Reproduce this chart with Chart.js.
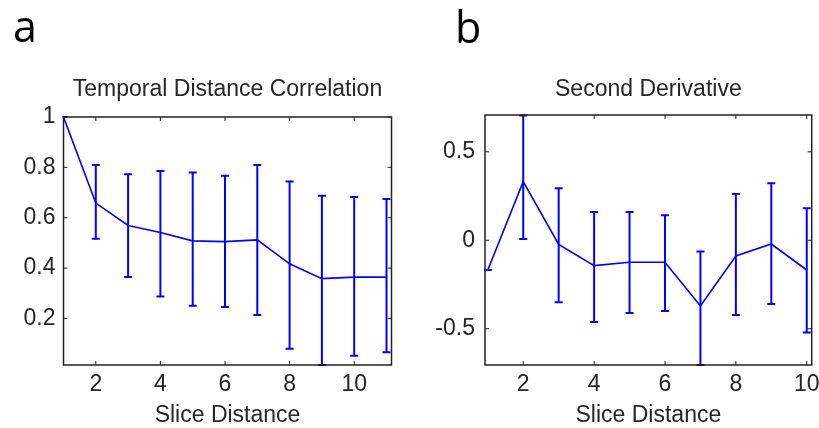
<!DOCTYPE html>
<html><head><meta charset="utf-8">
<script src="https://cdn.jsdelivr.net/npm/chart.js@4"></script>
<style>
html,body{margin:0;padding:0;background:#fff;}
#wrap{position:relative;width:819px;height:428px;overflow:hidden;background:#fff;}
#ca{position:absolute;left:0;top:0;}
#cb{position:absolute;left:410px;top:0;}
</style></head><body>
<div id="wrap">
<canvas id="ca" width="410" height="428" style="width:410px;height:428px"></canvas>
<canvas id="cb" width="409" height="428" style="width:409px;height:428px"></canvas>
</div>
<script>
// ---- Panel a: Temporal Distance Correlation ----
const sliceA = [1, 2, 3, 4, 5, 6, 7, 8, 9, 10, 11];
const meanA  = [1.0, 0.658, 0.569, 0.541, 0.508, 0.505, 0.512, 0.417, 0.358, 0.364, 0.364];
const upperA = [1.0, 0.809, 0.773, 0.786, 0.780, 0.767, 0.809, 0.744, 0.687, 0.682, 0.674];
const lowerA = [1.0, 0.516, 0.365, 0.287, 0.250, 0.245, 0.214, 0.080, 0.015, 0.052, 0.066];
const xTicksA = [2, 4, 6, 8, 10];
const xTickLabelsA = ['2', '4', '6', '8', '10'];
const yTicksA = [0.2, 0.4, 0.6, 0.8, 1];
const yTickLabelsA = ['0.2', '0.4', '0.6', '0.8', '1'];

// ---- Panel b: Second Derivative ----
const sliceB = [1, 2, 3, 4, 5, 6, 7, 8, 9, 10];
const meanB  = [-0.168, 0.331, -0.023, -0.143, -0.124, -0.124, -0.371, -0.089, -0.021, -0.168];
const upperB = [-0.168, 0.705, 0.294, 0.160, 0.160, 0.141, -0.064, 0.262, 0.322, 0.181];
const lowerB = [-0.168, 0.007, -0.350, -0.462, -0.411, -0.400, -0.705, -0.422, -0.360, -0.522];
const xTicksB = [2, 4, 6, 8, 10];
const xTickLabelsB = ['2', '4', '6', '8', '10'];
const yTicksB = [-0.5, 0, 0.5];
const yTickLabelsB = ['-0.5', '0', '0.5'];

Chart.defaults.font.family = '"Liberation Sans", Arial, sans-serif';
Chart.defaults.color = '#262626';

const errorBarsPlugin = {
  id: 'errorBars',
  afterDatasetsDraw(chart, args, opts) {
    const {ctx, chartArea: a, scales: {x, y}} = chart;
    ctx.save();
    ctx.beginPath();
    ctx.rect(a.left - 1, a.top - 1, a.right - a.left + 2, a.bottom - a.top + 2);
    ctx.clip();
    ctx.strokeStyle = opts.color;
    ctx.lineWidth = opts.width;
    opts.xs.forEach((xv, i) => {
      const px = x.getPixelForValue(xv);
      const pu = y.getPixelForValue(opts.upper[i]);
      const pl = y.getPixelForValue(opts.lower[i]);
      ctx.beginPath();
      ctx.moveTo(px, pu); ctx.lineTo(px, pl);
      ctx.moveTo(px - opts.cap, pu); ctx.lineTo(px + opts.cap, pu);
      ctx.moveTo(px - opts.cap, pl); ctx.lineTo(px + opts.cap, pl);
      ctx.stroke();
    });
    ctx.restore();
  }
};

const boxPlugin = {
  id: 'matlabBox',
  afterDraw(chart, args, opts) {
    const {ctx, chartArea: a, scales: {x, y}} = chart;
    ctx.save();
    ctx.strokeStyle = '#222';
    ctx.lineWidth = 1.5;
    ctx.strokeRect(a.left, a.top, a.right - a.left, a.bottom - a.top);
    ctx.lineWidth = 1;
    const tl = 4;
    ctx.beginPath();
    x.ticks.forEach(t => {
      const p = x.getPixelForValue(t.value);
      ctx.moveTo(p, a.bottom); ctx.lineTo(p, a.bottom - tl);
      ctx.moveTo(p, a.top); ctx.lineTo(p, a.top + tl);
    });
    y.ticks.forEach(t => {
      const p = y.getPixelForValue(t.value);
      ctx.moveTo(a.left, p); ctx.lineTo(a.left + tl, p);
      ctx.moveTo(a.right, p); ctx.lineTo(a.right - tl, p);
    });
    ctx.stroke();
    ctx.fillStyle = '#000';
    ctx.font = '43px "Open Sans", sans-serif';
    ctx.textAlign = 'left';
    ctx.textBaseline = 'alphabetic';
    ctx.fillText(opts.letter, opts.lx, opts.ly);
    ctx.restore();
  }
};

function makePanel(canvasId, p) {
  return new Chart(document.getElementById(canvasId), {
    type: 'line',
    data: {
      datasets: [{
        data: p.xs.map((v, i) => ({x: v, y: p.mean[i]})),
        borderColor: '#0000ff',
        borderWidth: 1.6,
        pointRadius: 0,
        tension: 0,
        fill: false
      }]
    },
    options: {
      responsive: false,
      animation: false,
      devicePixelRatio: 1,
      layout: {padding: {left: 0, right: p.padR, top: 0, bottom: 0}},
      plugins: {
        legend: {display: false},
        tooltip: {enabled: false},
        title: {
          display: true, text: p.title, color: '#262626', fullSize: false,
          font: {size: 23, weight: 'normal', lineHeight: 1.2},
          padding: {top: 76.2, bottom: p.titleBottom}
        },
        errorBars: {xs: p.xs, upper: p.upper, lower: p.lower, color: '#0000ff', width: 2, cap: 4},
        matlabBox: {letter: p.letter, lx: p.lx, ly: p.ly}
      },
      scales: {
        x: {
          type: 'linear', min: p.xmin, max: p.xmax,
          afterBuildTicks: s => { s.ticks = p.xTicks.map(v => ({value: v})); },
          ticks: {font: {size: 23}, padding: 6, maxRotation: 0, autoSkip: false,
                  callback: (v, i) => p.xTickLabels[i]},
          grid: {display: false, drawTicks: false},
          border: {display: false},
          title: {display: true, text: 'Slice Distance', color: '#262626',
                  font: {size: 23, lineHeight: 1}, padding: {top: 0, bottom: 1}},
          afterFit: s => { s.height = 63; s.paddingLeft = 0; s.paddingRight = 0; }
        },
        y: {
          type: 'linear', min: p.ymin, max: p.ymax,
          afterBuildTicks: s => { s.ticks = p.yTicks.map(v => ({value: v})); },
          ticks: {font: {size: 23}, padding: p.yPad, autoSkip: false,
                  callback: (v, i) => p.yTickLabels[i]},
          grid: {display: false, drawTicks: false},
          border: {display: false},
          afterFit: s => { s.width = p.yW; s.paddingTop = 0; s.paddingBottom = 0; }
        }
      }
    },
    plugins: [errorBarsPlugin, boxPlugin]
  });
}

makePanel('ca', {
  xs: sliceA, mean: meanA, upper: upperA, lower: lowerA,
  xTicks: xTicksA, xTickLabels: xTickLabelsA, yTicks: yTicksA, yTickLabels: yTickLabelsA,
  title: 'Temporal Distance Correlation', letter: 'a', lx: 13, ly: 42,
  xmin: 1, xmax: 11.155, ymin: 0.015, ymax: 1,
  padR: 18.5, yW: 63.5, yPad: 8, titleBottom: 13.2
});
makePanel('cb', {
  xs: sliceB, mean: meanB, upper: upperB, lower: lowerB,
  xTicks: xTicksB, xTickLabels: xTickLabelsB, yTicks: yTicksB, yTickLabels: yTickLabelsB,
  title: 'Second Derivative', letter: 'b', lx: 45, ly: 43,
  xmin: 0.921, xmax: 10.14, ymin: -0.705, ymax: 0.708,
  padR: 7.3, yW: 75, yPad: 10, titleBottom: 11.2
});
</script>
</body></html>
